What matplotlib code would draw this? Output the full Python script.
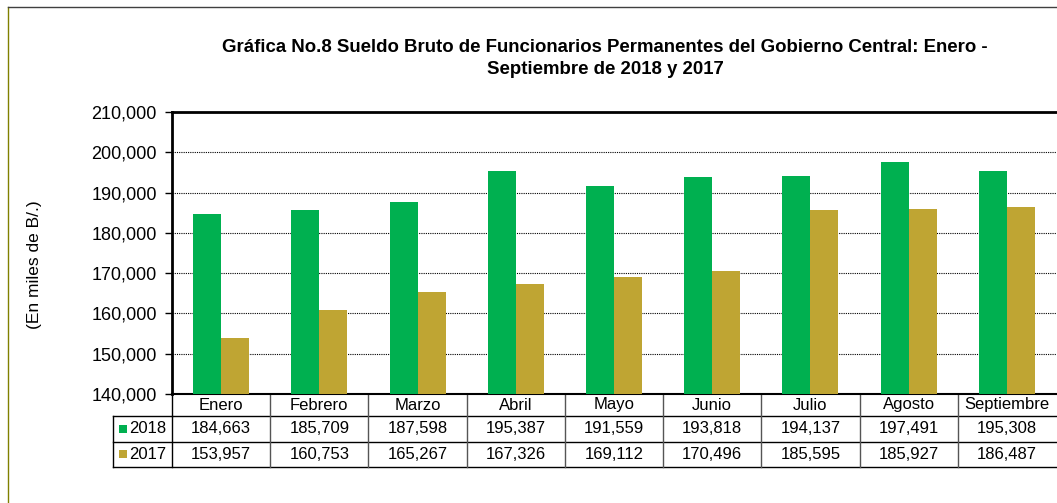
import matplotlib.pyplot as plt
from matplotlib.patches import Rectangle
from matplotlib.lines import Line2D
import matplotlib.transforms as mtransforms

plt.rcParams['font.family'] = ['Liberation Sans', 'DejaVu Sans']

# Data
meses = ["Enero", "Febrero", "Marzo", "Abril", "Mayo", "Junio", "Julio", "Agosto", "Septiembre"]
sueldo_2018 = [184663, 185709, 187598, 195387, 191559, 193818, 194137, 197491, 195308]
sueldo_2017 = [153957, 160753, 165267, 167326, 169112, 170496, 185595, 185927, 186487]
series_labels = ["2018", "2017"]
yticks = [140000, 150000, 160000, 170000, 180000, 190000, 200000, 210000]

col_2018 = "#00B050"
col_2017 = "#BFA533"

W, H = 1057, 503
fig = plt.figure(figsize=(W / 100, H / 100), dpi=100)

# plot area in pixels
px_left, px_right, px_top, px_bottom = 172, 1056, 112, 394
ax = fig.add_axes([px_left / W, 1 - px_bottom / H, (px_right - px_left) / W, (px_bottom - px_top) / H])

n = len(meses)
bw = 0.285
x = list(range(n))
ax.bar([i - bw / 2 for i in x], sueldo_2018, width=bw, color=col_2018, zorder=3)
ax.bar([i + bw / 2 for i in x], sueldo_2017, width=bw, color=col_2017, zorder=3)

ax.set_xlim(-0.5, n - 0.5)
ax.set_ylim(yticks[0], yticks[-1])
ax.set_yticks(yticks)
ax.set_yticklabels([f"{v:,}" for v in yticks], fontsize=13)
ax.set_xticks([])
ax.yaxis.grid(True, linestyle=(0, (1, 1)), color="black", linewidth=0.8)
ax.tick_params(axis="y", direction="out", length=5, width=1, pad=6)
for side in ["top", "left"]:
    ax.spines[side].set_linewidth(2)
ax.spines["right"].set_visible(False)
ax.spines["bottom"].set_linewidth(1.5)

# y label (sits a bit below the middle of the plot in the original)
fig.text(34 / W, 1 - 265 / H, "(En miles de B/.)", rotation=90, ha="center", va="center", fontsize=12.5)

# data table under the plot
plot_h = px_bottom - px_top
trans = mtransforms.blended_transform_factory(ax.transData, ax.transAxes)
row_edges_px = [394, 416, 441.5, 467]
row_edges = [1 - (p - px_top) / plot_h for p in row_edges_px]
leg_left = -0.5 - (px_left - 113) / ((px_right - px_left) / n)

def hline(x0, x1, y, color="black", lw=1.0):
    ax.add_line(Line2D([x0, x1], [y, y], transform=trans, color=color, lw=lw, clip_on=False))

def vline(xv, y0, y1, color="black", lw=1.0):
    ax.add_line(Line2D([xv, xv], [y0, y1], transform=trans, color=color, lw=lw, clip_on=False))

hline(-0.5, n - 0.5, row_edges[1])
hline(leg_left, -0.5, row_edges[1])
hline(leg_left, n - 0.5, row_edges[2])
hline(leg_left, n - 0.5, row_edges[3])
vline(leg_left, row_edges[1], row_edges[3])
vline(-0.5, row_edges[0], row_edges[3])
for i in range(1, n):
    vline(i - 0.5, row_edges[0], row_edges[3], color="#555555")

def mid(a, b):
    return (a + b) / 2

for i, m in enumerate(meses):
    ax.text(i, mid(row_edges[0], row_edges[1]), m, transform=trans, ha="center", va="center", fontsize=12)
    ax.text(i, mid(row_edges[1], row_edges[2]), f"{sueldo_2018[i]:,}", transform=trans,
            ha="center", va="center", fontsize=12)
    ax.text(i, mid(row_edges[2], row_edges[3]), f"{sueldo_2017[i]:,}", transform=trans,
            ha="center", va="center", fontsize=12)

sq = 8 / plot_h
for k, (lab, c) in enumerate(zip(series_labels, [col_2018, col_2017])):
    yc = mid(row_edges[k + 1], row_edges[k + 2])
    ax.add_patch(Rectangle((leg_left + 0.06, yc - sq / 2), 0.085, sq, transform=trans,
                           facecolor=c, edgecolor="none", clip_on=False))
    ax.text(leg_left + 0.165, yc, lab, transform=trans, ha="left", va="center", fontsize=12)

# title
fig.text(605 / W, 1 - 47 / H, "Gráfica No.8 Sueldo Bruto de Funcionarios Permanentes del Gobierno Central: Enero -",
         ha="center", va="center", fontsize=13.4, fontweight="bold")
fig.text(605 / W, 1 - 70 / H, "Septiembre de 2018 y 2017",
         ha="center", va="center", fontsize=13.4, fontweight="bold")

# outer chart border
fig.add_artist(Line2D([8 / W, 8 / W], [0, 1 - 7 / H], transform=fig.transFigure, color="#808000", lw=1))
fig.add_artist(Line2D([8 / W, 1], [1 - 7 / H, 1 - 7 / H], transform=fig.transFigure, color="#404040", lw=1))

fig.savefig("out.png", dpi=100)
